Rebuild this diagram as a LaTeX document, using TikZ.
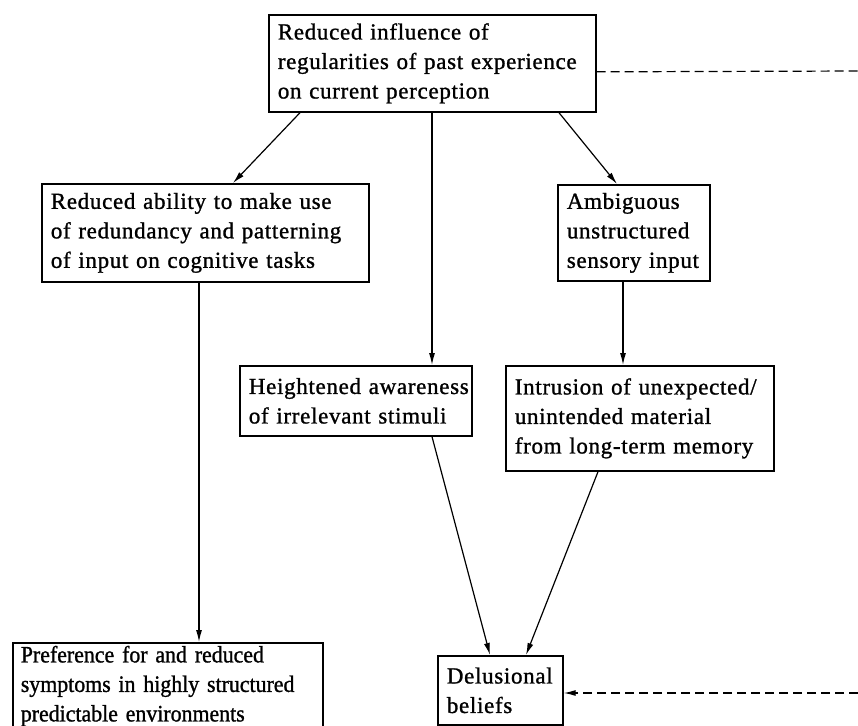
\documentclass[tikz,border=0pt]{standalone}
\usepackage{fontspec}
\setmainfont{Liberation Serif}[LetterSpace=3,FakeBold=1.1]
\newfontfamily\condfont{Liberation Serif}[FakeBold=1.1,FakeStretch=0.93]
\usetikzlibrary{arrows.meta}
\begin{document}
\begin{tikzpicture}[x=1pt,y=-1pt,
  box/.style={draw, line width=1.7pt, align=left, inner xsep=9pt, inner ysep=0pt,
    anchor=north west, font=\fontsize{23}{29.5}\selectfont},
  arr/.style={line width=1.2pt, -{Latex[length=12pt,width=6pt]}},
  dashline/.style={line width=1.2pt, dash pattern=on 9pt off 5pt}
]
\useasboundingbox[fill=white] (0,0) rectangle (858,725);

\node[box, text width=309pt, minimum height=97pt] (top) at (268,14)
  {\mbox{Reduced influence of}\\\mbox{regularities of past experience}\\\mbox{on current perception}};
\node[box, text width=309pt, minimum height=98pt] (b2) at (41,183)
  {\mbox{Reduced ability to make use}\\\mbox{of redundancy and patterning}\\\mbox{of input on cognitive tasks}};
\node[box, text width=134pt, minimum height=96pt] (b3) at (557,184)
  {\mbox{Ambiguous}\\\mbox{unstructured}\\\mbox{sensory input}};
\node[box, text width=214pt, minimum height=70pt] (b4) at (239,365)
  {\mbox{Heightened awareness}\\\mbox{of irrelevant stimuli}};
\node[box, text width=250pt, minimum height=105pt] (b6) at (505,365)
  {\mbox{Intrusion of unexpected/}\\\mbox{unintended material}\\\mbox{from long-term memory}};
\node[box, text width=294pt, inner xsep=8pt, inner ysep=3pt, minimum height=82pt, font=\condfont\fontsize{23.5}{29.5}\selectfont] (b5) at (12,642)
  {\mbox{Preference for and reduced}\\\mbox{symptoms in highly structured}\\\mbox{predictable environments}};
\node[box, text width=107pt, minimum height=69pt] (b7) at (437,655)
  {\mbox{Delusional}\\\mbox{beliefs}};

\coordinate (d1) at (858,71);
\coordinate (d2) at (858,693);

\draw[arr] ([xshift=32pt]top.south west) -- ([xshift=192pt]b2.north west);
\draw[arr] ([xshift=164pt]top.south west) -- ([xshift=193pt]b4.north west);
\draw[arr] ([xshift=291pt]top.south west) -- ([xshift=60pt]b3.north west);
\draw[arr] ([xshift=158pt]b2.south west) -- ([xshift=187pt]b5.north west);
\draw[arr] ([xshift=66pt]b3.south west) -- ([xshift=118pt]b6.north west);
\draw[arr] ([xshift=193pt]b4.south west) -- ([xshift=53pt]b7.north west);
\draw[arr] ([xshift=93pt]b6.south west) -- ([xshift=89pt]b7.north west);
\draw[dashline] ([yshift=-8.5pt]top.east) -- (d1);
\draw[dashline, -{Latex[length=12pt,width=6pt]}] (d2) -- (b7.east |- d2);
\end{tikzpicture}
\end{document}
